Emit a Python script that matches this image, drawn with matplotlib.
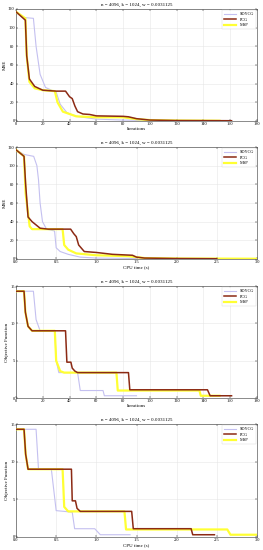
import matplotlib
matplotlib.use("Agg")
import matplotlib.pyplot as plt

# ====== Data ======
title = "n = 4096, k = 1024, w = 0.0031125"
labels = ["SDYCG", "PCG", "MSP"]

# MSE vs iterations
mse_it_sdycg_x = [0, 5, 13, 15, 18, 22, 28, 30, 33, 38, 45, 60, 80, 110]
mse_it_sdycg_y = [117, 111, 110, 80, 50, 36, 32, 31, 18, 9, 5, 2, 1, 0.5]
mse_it_pcg_x = [0, 7, 8, 10, 14, 20, 30, 37, 40, 42, 44, 46, 50, 55, 60, 80, 84, 90, 100, 120, 161]
mse_it_pcg_y = [117, 108, 70, 45, 37, 33, 32, 32, 26, 24, 16, 10, 7.5, 7, 5.5, 5, 4.5, 2.5, 1, 0.5, 0.3]
mse_it_msp_x = [0, 7, 8, 10, 14, 20, 29, 31, 35, 45, 60, 80, 90, 100, 120, 152]
mse_it_msp_y = [117, 110, 70, 42, 35, 33, 32, 20, 10, 5, 4, 4, 2, 1, 0.5, 0.3]

# MSE vs CPU time
mse_t_sdycg_x = [0, 0.1, 0.22, 0.26, 0.28, 0.3, 0.33, 0.38, 0.48, 0.5, 0.55, 0.65, 0.8, 1.0, 1.5]
mse_t_sdycg_y = [117, 112, 110, 100, 85, 60, 40, 32, 30, 12, 8, 5, 2, 1, 0.5]
mse_t_pcg_x = [0, 0.1, 0.12, 0.15, 0.2, 0.3, 0.4, 0.68, 0.72, 0.75, 0.78, 0.85, 1.0, 1.2, 1.45, 1.5, 1.6, 2.0, 2.5]
mse_t_pcg_y = [117, 110, 80, 45, 40, 33, 32, 32, 27, 24, 15, 8, 7, 5, 4, 2, 1, 0.5, 0.3]
mse_t_msp_x = [0, 0.1, 0.12, 0.17, 0.2, 0.58, 0.6, 0.65, 0.75, 1.0, 1.4, 1.6, 2.0, 3.0]
mse_t_msp_y = [117, 110, 70, 35, 32, 32, 15, 10, 6, 4, 3, 1, 0.5, 0.3]

# Objective function vs iterations
obj_it_sdycg_x = [0, 13, 15, 18, 29, 30, 32, 46, 48, 65, 66, 90]
obj_it_sdycg_y = [14.3, 14.3, 10.5, 9, 9, 5, 3.4, 3.4, 1.0, 1.0, 0.3, 0.3]
obj_it_pcg_x = [0, 6, 7, 9, 12, 37, 38, 41, 42, 44, 46, 84, 85, 143, 145, 161]
obj_it_pcg_y = [14.3, 14.3, 11.5, 9.6, 9, 9, 4.8, 4.8, 4.0, 3.6, 3.4, 3.4, 1.1, 1.1, 0.3, 0.3]
obj_it_msp_x = [0, 6, 7, 9, 12, 29, 30, 33, 36, 75, 76, 137, 138, 152]
obj_it_msp_y = [14.3, 14.3, 11.5, 9.6, 9, 9, 5, 3.6, 3.4, 3.4, 1.0, 1.0, 0.3, 0.3]

# Objective function vs CPU time
obj_t_sdycg_x = [0, 0.25, 0.28, 0.44, 0.5, 0.7, 0.73, 0.98, 1.05, 1.42]
obj_t_sdycg_y = [14.3, 14.3, 9, 9, 3.5, 3.3, 1.1, 1.1, 0.3, 0.3]
obj_t_pcg_x = [0, 0.1, 0.12, 0.15, 0.69, 0.7, 0.74, 0.76, 0.8, 1.44, 1.46, 2.18, 2.2, 2.47]
obj_t_pcg_y = [14.3, 14.3, 11, 9, 9, 4.8, 4.8, 3.8, 3.4, 3.4, 1.1, 1.1, 0.3, 0.3]
obj_t_msp_x = [0, 0.1, 0.12, 0.15, 0.58, 0.6, 0.65, 1.35, 1.37, 2.63, 2.67, 3.0]
obj_t_msp_y = [14.3, 14.3, 11, 9, 9, 4, 3.4, 3.4, 1.0, 1.0, 0.3, 0.3]

# ====== Style ======
plt.rcParams["font.family"] = ["Liberation Serif", "DejaVu Serif"]
colors = ["#c4c0f0", "#8c2a14", "#ffff33"]
widths = [0.8, 1.1, 1.6]
zorders = [2, 4, 3]

panels = [
    (mse_it_sdycg_x, mse_it_sdycg_y, mse_it_pcg_x, mse_it_pcg_y, mse_it_msp_x, mse_it_msp_y,
     "Iterations", "MSE", (0, 180), range(0, 181, 20), (0, 120), range(0, 121, 20)),
    (mse_t_sdycg_x, mse_t_sdycg_y, mse_t_pcg_x, mse_t_pcg_y, mse_t_msp_x, mse_t_msp_y,
     "CPU time (s)", "MSE", (0, 3), [0, 0.5, 1, 1.5, 2, 2.5, 3], (0, 120), range(0, 121, 20)),
    (obj_it_sdycg_x, obj_it_sdycg_y, obj_it_pcg_x, obj_it_pcg_y, obj_it_msp_x, obj_it_msp_y,
     "Iterations", "Objective Function", (0, 180), range(0, 181, 20), (0, 15), [0, 5, 10, 15]),
    (obj_t_sdycg_x, obj_t_sdycg_y, obj_t_pcg_x, obj_t_pcg_y, obj_t_msp_x, obj_t_msp_y,
     "CPU time (s)", "Objective Function", (0, 3), [0, 0.5, 1, 1.5, 2, 2.5, 3], (0, 15), [0, 5, 10, 15]),
]

fig = plt.figure(figsize=(2.63, 5.5), dpi=100)
W, H = 263.0, 550.0
# axes boxes in pixels: (top, bottom)
boxes = [(9, 121), (147, 259), (286, 398), (424, 537)]
left_px, right_px = 16, 257

for (top, bot), p in zip(boxes, panels):
    sx, sy, px, py, mx, my, xlab, ylab, xlim, xt, ylim, yt = p
    ax = fig.add_axes([left_px / W, 1 - bot / H, (right_px - left_px) / W, (bot - top) / H])
    for (x, y), c, lw, z, lab in zip([(sx, sy), (px, py), (mx, my)], colors, widths, zorders, labels):
        ax.plot(x, y, color=c, lw=lw, zorder=z, label=lab)
    ax.set_xlim(*xlim)
    ax.set_ylim(*ylim)
    ax.set_xticks(list(xt))
    ax.set_yticks(list(yt))
    ax.tick_params(direction="in", labelsize=3.2, length=1.5, width=0.3, pad=1,
                   top=True, right=True)
    ax.grid(True, color="#e6e6e6", lw=0.4)
    for s in ax.spines.values():
        s.set_linewidth(0.4)
        s.set_color("#333333")
    ax.set_title(title, fontsize=3.6, pad=2)
    ax.set_xlabel(xlab, fontsize=3.6, labelpad=0.5)
    ax.set_ylabel(ylab, fontsize=3.6, labelpad=1)
    leg = ax.legend(loc="upper right", fontsize=3.2, frameon=True, fancybox=False,
                    handlelength=2.8, borderpad=0.4, labelspacing=0.3, handletextpad=0.8,
                    borderaxespad=0.3)
    leg.get_frame().set_linewidth(0.3)
    leg.get_frame().set_edgecolor("#cccccc")

fig.savefig("out.png", dpi=100)
